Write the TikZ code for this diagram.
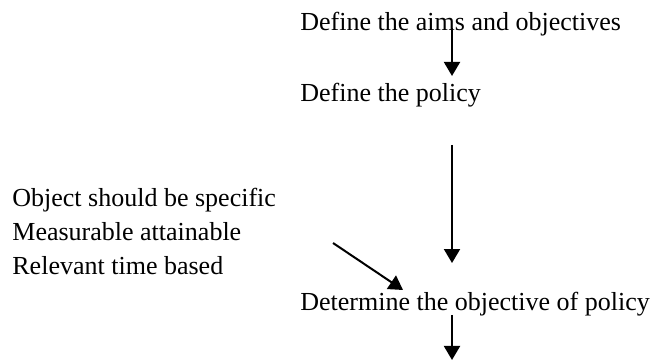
\documentclass[tikz,border=0pt]{standalone}
\usepackage{fontspec}
\setmainfont{Liberation Serif}
\usetikzlibrary{positioning,arrows.meta,calc}
\tikzset{
  txt/.style ={anchor=base west, inner sep=0pt, font=\fontsize{13pt}{16pt}\selectfont},
  ln/.style  ={draw=black, line width=1pt, -{Triangle[length=7pt,width=8pt]}},
}

\begin{document}
\begin{tikzpicture}
    \useasboundingbox (0,0) rectangle (11.563,6.326);
    \coordinate (spine) at (7.943,0);

    \node[txt] (aim) at (5.272,5.782) {Define the aims and objectives};
    \node[txt] (pol) at (5.272,4.534) {Define the policy};
    \node[txt] (det) at (5.272,0.861) {Determine the objective of policy};
    \node[txt] (spc) at (0.211,2.689) {Object should be specific};
    \node[txt] (msr) at (0.211,2.096) {Measurable attainable};
    \node[txt] (rel) at (0.211,1.511) {Relevant time based};

    \draw[ln] ($(aim.base -| spine)+(0,0.053)$) -- ($(pol.base -| spine)+(0,0.457)$);
    \draw[ln] ($(pol.base -| spine)+(0,-0.756)$) -- ($(det.base -| spine)+(0,0.843)$);
    \draw[ln] ($(msr.base west)+(5.641,-0.04)$) -- ($(det.base west)+(1.81,0.369)$);
    \draw[ln] ($(det.base -| spine)+(0,-0.07)$) -- ($(det.base -| spine)+(0,-0.861)$);
  \end{tikzpicture}
\end{document}
